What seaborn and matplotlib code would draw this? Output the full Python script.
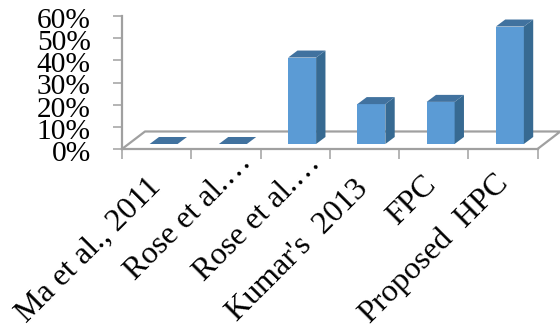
import numpy as np
import matplotlib
matplotlib.use("Agg")
import matplotlib.pyplot as plt
from matplotlib.patches import Polygon
from matplotlib.transforms import ScaledTranslation
import seaborn as sns

# Share of improvement reported by each method
methods = ["Ma et al., 2011", "Rose et al.…", "Rose et al.…",
           "Kumar's  2013", "FPC", "Proposed  HPC"]
values = [0, 0, 39, 18, 19, 53]
percent_ticks = [0, 10, 20, 30, 40, 50, 60]

FRONT, SIDE, TOP = "#5B9BD5", "#376A92", "#41729F"
AXIS_GRAY = "#A0A0A0"

sns.set_theme(style="white")
plt.rcParams["font.family"] = ["Liberation Serif", "DejaVu Serif"]

W, H = 560, 328
fig = plt.figure(figsize=(W / 100, H / 100), dpi=100, facecolor="white")


def frame(left, base, width, height):
    return [left / W, (H - base) / H, width / W, height / H]


def nudge(label, dx, dy):
    # Moves a tick label by a number of pixels
    shift = ScaledTranslation(dx / 100, dy / 100, fig.dpi_scale_trans)
    label.set_transform(label.get_transform() + shift)


ax = fig.add_axes(frame(122, 149, 415.5, 133))
ax.set_xlim(-0.5, 5.5)
ax.set_ylim(0, 60)

# Floor of the 3-D box, drawn in the data space of the main axes
floor_x = [-0.5, -0.168, 5.83, 5.5]
floor_y = [0, 7.9, 7.9, 0]
ax.plot(floor_x, floor_y, color=AXIS_GRAY, lw=1.6, clip_on=False, zorder=1)

for side in ("top", "right"):
    ax.spines[side].set_visible(False)
for side in ("left", "bottom"):
    ax.spines[side].set_color(AXIS_GRAY)
    ax.spines[side].set_linewidth(1.6)

ax.set_yticks(percent_ticks)
ax.set_yticklabels([f"{p}%" for p in percent_ticks], fontsize=21.2)
ax.tick_params(axis="y", length=6.5, width=1.1, color=AXIS_GRAY, pad=16,
               left=True, labelcolor="black")
for label in ax.get_yticklabels():
    nudge(label, 0, -2)

# Category boundaries carry the tick marks, centres carry the labels
ax.set_xticks(np.arange(-0.5, 6.0), minor=True)
ax.set_xticks(np.arange(len(methods)))
ax.set_xticklabels(methods, fontsize=23, rotation=45, ha="right",
                   va="center", rotation_mode="anchor", color="black")
ax.tick_params(axis="x", which="major", length=0, pad=22)
ax.tick_params(axis="x", which="minor", length=7, width=1.1, color=AXIS_GRAY,
               bottom=True)

# Hand-tuned nudges (pixels) for the slanted labels
label_nudge = [(0, -3), (21, 21), (21, 20), (-1, -5), (-2, -1), (1, 0)]
for label, (dx, dy) in zip(ax.get_xticklabels(), label_nudge):
    nudge(label, dx, dy)

# The bars stand further back on the floor, so they get a shifted axes
bar_ax = fig.add_axes(frame(129, 144, 415.5, 133), sharey=None)
bar_ax.patch.set_alpha(0)
sns.barplot(x=np.arange(len(values)), y=values, ax=bar_ax, color=FRONT,
            saturation=1, width=0.404, linewidth=0, zorder=3)
bar_ax.set_xlim(-0.5, 5.5)
bar_ax.set_ylim(0, 60)
bar_ax.axis("off")

# Side and top faces are extruded from each seaborn bar
depth_x, depth_y = 0.135, 3.16
for bar in list(bar_ax.patches):
    x0, w, h = bar.get_x(), bar.get_width(), bar.get_height()
    x1 = x0 + w
    bar_ax.add_patch(Polygon(
        [(x1, 0), (x1 + depth_x, depth_y), (x1 + depth_x, h + depth_y), (x1, h)],
        closed=True, facecolor=SIDE, edgecolor="none", zorder=3, clip_on=False))
    bar_ax.add_patch(Polygon(
        [(x0, h), (x1, h), (x1 + depth_x, h + depth_y), (x0 + depth_x, h + depth_y)],
        closed=True, facecolor=TOP, edgecolor="none", zorder=3, clip_on=False))

fig.savefig("out.png", dpi=100, facecolor="white")
